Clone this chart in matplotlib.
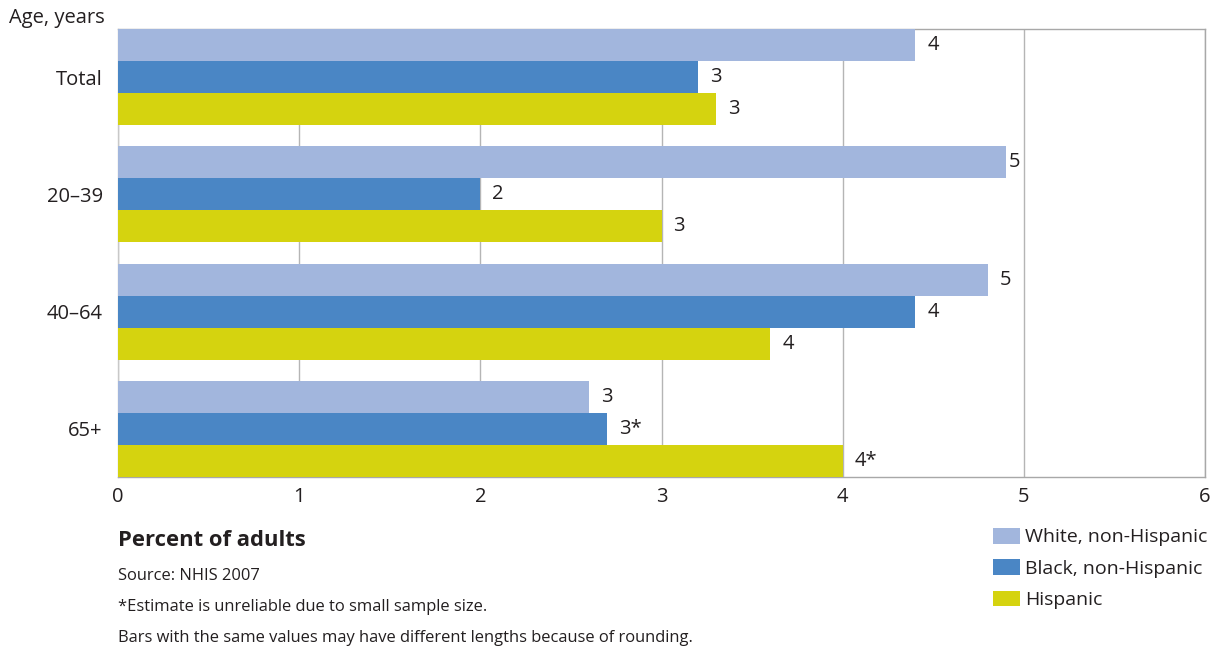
import matplotlib
matplotlib.use("Agg")
import matplotlib.pyplot as plt
from matplotlib.patches import Patch
import numpy as np

plt.rcParams['font.family'] = ['Open Sans', 'DejaVu Sans']

# ---- data ----
groups = ["Total", "20–39", "40–64", "65+"]
series_names = ["White, non-Hispanic", "Black, non-Hispanic", "Hispanic"]
white = [4.4, 4.9, 4.8, 2.6]
black = [3.2, 2.0, 4.4, 2.7]
hispanic = [3.3, 3.0, 3.6, 4.0]
white_labels = ["4", "5", "5", "3"]
black_labels = ["3", "2", "4", "3*"]
hispanic_labels = ["3", "3", "4", "4*"]
xticks = [0, 1, 2, 3, 4, 5, 6]

colors = ["#A2B6DD", "#4A86C5", "#D5D30F"]
text_color = "#231F20"

fig = plt.figure(figsize=(12.25, 6.52), dpi=100)
ax = fig.add_axes([118/1225, 1 - 477/652, (1205 - 118)/1225, (477 - 29)/652])

y = np.arange(len(groups))
h = 0.273
all_vals = [white, black, hispanic]
all_labels = [white_labels, black_labels, hispanic_labels]
for i, (vals, labs, col) in enumerate(zip(all_vals, all_labels, colors)):
    yy = y + (i - 1) * h
    ax.barh(yy, vals, height=h, color=col, zorder=3, linewidth=0)
    for v, yv, lab in zip(vals, yy, labs):
        pad = 12
        nxt = np.ceil(v)
        # keep the label inside the current grid cell when the bar nearly reaches the gridline
        if nxt - v < 0.15 and nxt != v:
            pad = 3
        ax.annotate(lab, xy=(v, yv), xytext=(pad, 0), textcoords="offset pixels",
                    ha="left", va="center", fontsize=14.5, color=text_color, zorder=4)

ax.set_xlim(0, 6)
ax.set_ylim(len(groups) - 1 + 1.5 * h, -1.5 * h)
ax.set_xticks(xticks)
ax.set_xticklabels([str(t) for t in xticks], fontsize=14.5, color=text_color)
ax.set_yticks(y)
ax.set_yticklabels(groups, fontsize=14.5, color=text_color)
ax.tick_params(axis="both", length=0)
ax.tick_params(axis="x", pad=7)
ax.tick_params(axis="y", pad=11)
ax.grid(axis="x", color="#B5B5B5", linewidth=1.0, zorder=0)
for s in ax.spines.values():
    s.set_color("#A8A8A8")
    s.set_linewidth(1.0)
ax.spines["left"].set_color("#C8C8C8")

fig.text(105/1225, 1 - 18/652, "Age, years", ha="right", va="center",
         fontsize=14.5, color=text_color)

fig.text(118/1225, 1 - 540/652, "Percent of adults", ha="left", va="center",
         fontsize=15.8, fontweight="bold", color=text_color)
fig.text(118/1225, 1 - 576/652, "Source: NHIS 2007", ha="left", va="center",
         fontsize=11.9, color=text_color)
fig.text(118/1225, 1 - 607/652, "*Estimate is unreliable due to small sample size.",
         ha="left", va="center", fontsize=11.9, color=text_color)
fig.text(118/1225, 1 - 638/652,
         "Bars with the same values may have different lengths because of rounding.",
         ha="left", va="center", fontsize=11.9, color=text_color)

handles = [Patch(facecolor=c, edgecolor="none") for c in colors]
leg = fig.legend(handles, series_names, loc="upper left",
                 bbox_to_anchor=(993/1225, 1 - 528/652), frameon=False,
                 fontsize=14, handlelength=1.4, handleheight=0.85,
                 handletextpad=0.25, labelspacing=0.66, borderpad=0,
                 borderaxespad=0)
for t in leg.get_texts():
    t.set_color(text_color)

fig.savefig("out.png", dpi=100)
